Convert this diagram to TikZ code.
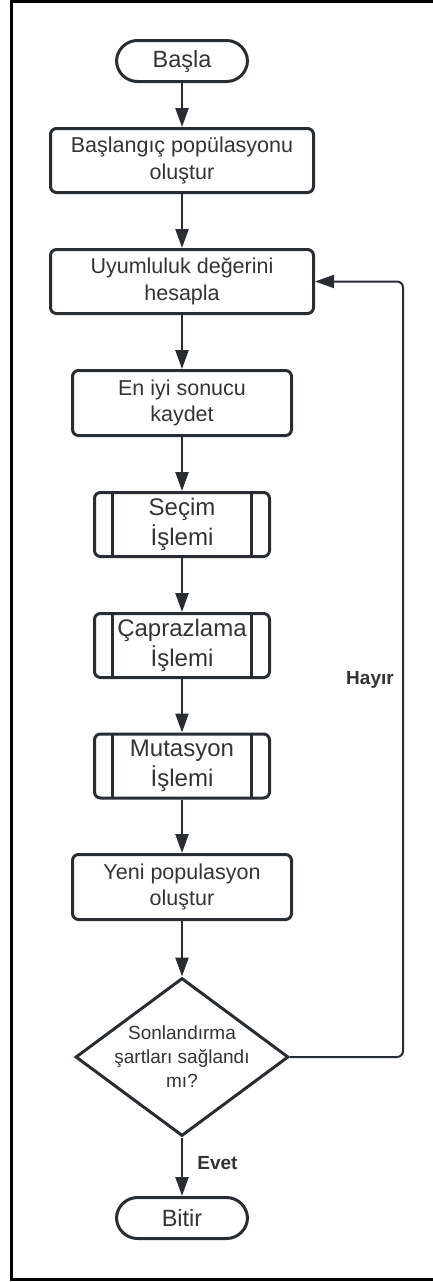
\documentclass[tikz,border=0pt]{standalone}
\usepackage{fontspec}
\setmainfont{Liberation Sans}
\usetikzlibrary{arrows.meta,shapes.geometric}
\definecolor{ink}{HTML}{282C33}
\definecolor{txt}{HTML}{333333}
\begin{document}
\begin{tikzpicture}[x=1pt,y=-1pt,
  box/.style={draw=ink, line width=3pt, rectangle, rounded corners=6pt,
    text=txt, align=center, inner sep=0pt,
    font=\fontsize{21.5}{26.5}\selectfont},
  term/.style={draw=ink, line width=3pt, rectangle, rounded corners=21pt,
    minimum width=131pt, minimum height=41pt, text=txt, inner sep=0pt,
    font=\fontsize{23.5}{28}\selectfont},
  subproc/.style={box, minimum width=175pt, minimum height=64pt,
    font=\fontsize{24}{29.5}\selectfont,
    path picture={
      \draw[ink, line width=3pt]
        ([xshift=18pt]path picture bounding box.north west) --
        ([xshift=18pt]path picture bounding box.south west);
      \draw[ink, line width=3pt]
        ([xshift=-18pt]path picture bounding box.north east) --
        ([xshift=-18pt]path picture bounding box.south east);}},
  decision/.style={draw=ink, line width=3pt, diamond, inner sep=0pt,
    minimum width=213pt, minimum height=158pt},
  conn/.style={draw=ink, line width=2.4pt,
    -{Triangle[length=19pt, width=13pt]}},
  lbl/.style={text=txt, font=\fontsize{19}{23}\selectfont\bfseries}]

\useasboundingbox (0,0) rectangle (432,1282);
% outer frame
\draw[black, line width=3pt] (11.5,1.5) rectangle (434,1279);

% flow nodes
\node[term] (start) at (182,61) {Başla};
\node[box, minimum width=263pt, minimum height=64pt] (init) at (182,160.5)
  {Başlangıç popülasyonu\\oluştur};
\node[box, minimum width=263pt, minimum height=64pt] (fit) at (182,281.5)
  {Uyumluluk değerini\\hesapla};
\node[box, minimum width=219pt, minimum height=65pt] (best) at (182,403)
  {En iyi sonucu\\kaydet};
\node[subproc] (sel) at (182,524.5) {Seçim\\İşlemi};
\node[subproc] (cross) at (182,645.5) {Çaprazlama\\İşlemi};
\node[subproc] (mut) at (182,766) {Mutasyon\\İşlemi};
\node[box, minimum width=219pt, minimum height=65pt] (newpop) at (182,887)
  {Yeni populasyon\\oluştur};
\node[decision] (dec) at (182,1057) {};
\node[text=txt, align=center, font=\fontsize{19}{24}\selectfont] (dectext)
  at (dec.center) {Sonlandırma\\şartları sağlandı\\mı?};
\node[term] (stop) at (182,1218) {Bitir};

% connectors
\draw[conn] (start) -- (init);
\draw[conn] (init) -- (fit);
\draw[conn] (fit) -- (best);
\draw[conn] (best) -- (sel);
\draw[conn] (sel) -- (cross);
\draw[conn] (cross) -- (mut);
\draw[conn] (mut) -- (newpop);
\draw[conn] (newpop) -- (dec);
\draw[conn] (dec) -- (stop);

% loop back when the stop condition fails
\coordinate (loopturn) at (403,281.5);
\draw[conn, line width=2pt, rounded corners=6pt]
  (dec.east) -| (loopturn) -- (fit.east);

% branch labels
\node[lbl] (no) at (370,680) {Hayır};
\node[lbl] (yes) at (217.5,1163) {Evet};
\end{tikzpicture}
\end{document}
